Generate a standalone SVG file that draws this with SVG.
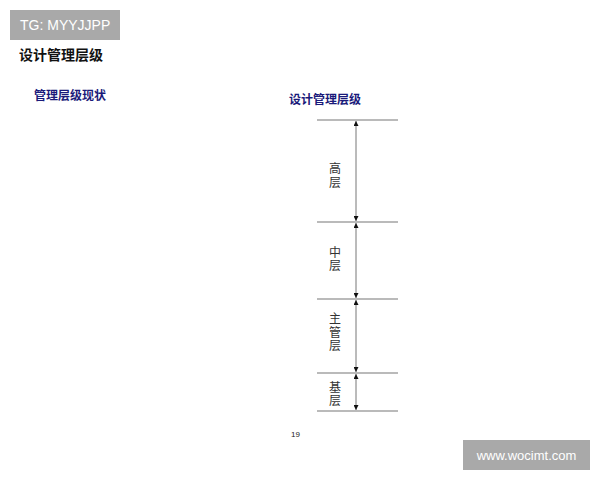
<svg xmlns="http://www.w3.org/2000/svg" width="600" height="480" viewBox="0 0 600 480">
<style>
.cjk{font-family:"Liberation Sans","Noto Sans CJK SC",sans-serif}
.lbl{font-size:12px;fill:#333;text-anchor:middle}
.hl{stroke:#777;stroke-width:1.2}
.vl{stroke:#777;stroke-width:1}
</style>
<defs>
<marker id="ah" viewBox="0 0 10 10" refX="10" refY="5" markerWidth="5" markerHeight="5" orient="auto-start-reverse" markerUnits="userSpaceOnUse">
<path d="M0,0 L10,5 L0,10 z" fill="#111"/>
</marker>
</defs>
<rect width="600" height="480" fill="#fff"/>
<g id="badge-top">
<rect x="10" y="10" width="110" height="30" fill="#a9a9a9"/>
<text x="20" y="30" font-family="Liberation Sans,sans-serif" font-size="14" fill="#fff">TG: MYYJJPP</text>
</g>
<text x="19" y="60" class="cjk" font-size="14" font-weight="bold" fill="#111">设计管理层级</text>
<text x="34" y="100" class="cjk" font-size="12" font-weight="bold" fill="#1a1a7a">管理层级现状</text>
<text x="289" y="104" class="cjk" font-size="12" font-weight="bold" fill="#1a1a7a">设计管理层级</text>
<g id="levels-lines">
<line class="hl" x1="317" y1="120" x2="398" y2="120"/>
<line class="hl" x1="317" y1="222" x2="398" y2="222"/>
<line class="hl" x1="317" y1="299" x2="398" y2="299"/>
<line class="hl" x1="317" y1="373" x2="398" y2="373"/>
<line class="hl" x1="317" y1="411" x2="398" y2="411"/>
</g>
<g id="connectors">
<line class="vl" x1="356" y1="121" x2="356" y2="221" marker-start="url(#ah)" marker-end="url(#ah)"/>
<line class="vl" x1="356" y1="223" x2="356" y2="298" marker-start="url(#ah)" marker-end="url(#ah)"/>
<line class="vl" x1="356" y1="300" x2="356" y2="372" marker-start="url(#ah)" marker-end="url(#ah)"/>
<line class="vl" x1="356" y1="374" x2="356" y2="410" marker-start="url(#ah)" marker-end="url(#ah)"/>
</g>
<g id="node-high" class="cjk lbl"><text x="335" y="173">高</text><text x="335" y="187">层</text></g>
<g id="node-mid" class="cjk lbl"><text x="335" y="257">中</text><text x="335" y="270">层</text></g>
<g id="node-sup" class="cjk lbl"><text x="335" y="323">主</text><text x="335" y="337">管</text><text x="335" y="350">层</text></g>
<g id="node-base" class="cjk lbl"><text x="335" y="392">基</text><text x="335" y="405">层</text></g>
<text x="291" y="437" font-family="Liberation Sans,sans-serif" font-size="8" fill="#222">19</text>
<g id="badge-bottom">
<rect x="463" y="440" width="127" height="30" fill="#a9a9a9"/>
<text x="526.5" y="460" font-family="Liberation Sans,sans-serif" font-size="13" fill="#fff" text-anchor="middle">www.wocimt.com</text>
</g>
</svg>
